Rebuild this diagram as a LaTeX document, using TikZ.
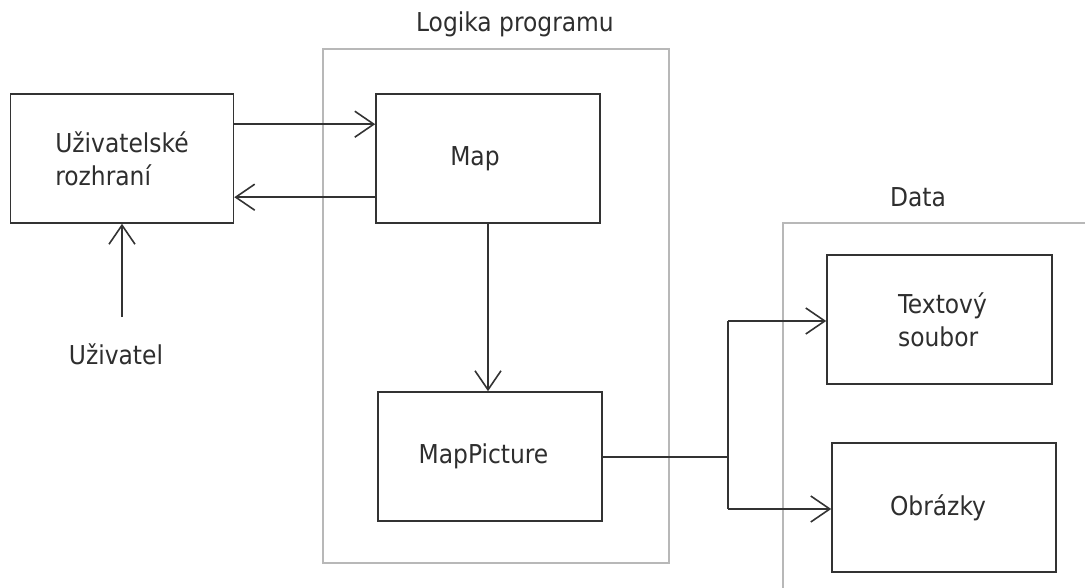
\documentclass[tikz,border=0pt]{standalone}
\usepackage{fontspec}
\setmainfont{DejaVu Sans Condensed}
\usetikzlibrary{arrows.meta,calc}
\begin{document}
\begin{tikzpicture}[x=1pt,y=-1pt,
  box/.style={draw=black!80, line width=1.6pt, inner sep=0pt, align=left,
    font=\fontsize{26}{33}\selectfont, text=black!82},
  group/.style={draw=black!28, line width=1.4pt},
  title/.style={font=\fontsize{26}{30}\selectfont, text=black!82},
  arr/.style={draw=black!80, line width=1.6pt,
    -{Straight Barb[length=19pt,width=26pt,line width=1.6pt]}},
  conn/.style={draw=black!80, line width=1.6pt}]
\useasboundingbox (0,0) rectangle (1085,588);
\clip (0,0) rectangle (1085,588);

% layer groups
\draw[group] (323,49) rectangle (669,563);
\draw[group] (783,223) rectangle (1100,600);
\node[title] (tlogic) at (515,24) {Logika programu};
\node[title] (tdata) at (918,197) {Data};

% components
\node[box, minimum width=223pt, minimum height=129pt] (ui) at (122,158.5) {Uživatelské\\rozhraní};
\node[box, minimum width=224pt, minimum height=129pt] (map) at (488,158.5) {Map\hspace*{26pt}};
\node[box, minimum width=224pt, minimum height=129pt] (pic) at (490,456.5) {MapPicture\hspace*{13pt}};
\node[box, minimum width=225pt, minimum height=129pt] (txt) at (939.5,319.5) {\hspace*{6pt}Textový\\\hspace*{6pt}soubor};
\node[box, minimum width=224pt, minimum height=129pt] (img) at (944,507.5) {Obrázky\hspace*{12pt}};
\node[title] (user) at (116,354) {Uživatel};

% connectors
\coordinate (ua) at ($(ui.north east)+(0,31)$);
\coordinate (ub) at ($(ui.north east)+(0,104)$);
\draw[arr] (ua) -- (ua -| map.west);
\draw[arr] (ub -| map.west) -- (ub);
\coordinate (us) at (122,317);
\draw[arr] (us) -- (us |- ui.south);
\draw[arr] (map.south) -- (map.south |- pic.north);
\coordinate (split) at (728,457);
\draw[conn] (pic.east |- split) -- (split);
\coordinate (st) at (728,321);
\coordinate (sb) at (728,509);
\draw[conn] (st) -- (sb);
\draw[arr] (st) -- (st -| txt.west);
\draw[arr] (sb) -- (sb -| img.west);
\end{tikzpicture}
\end{document}
